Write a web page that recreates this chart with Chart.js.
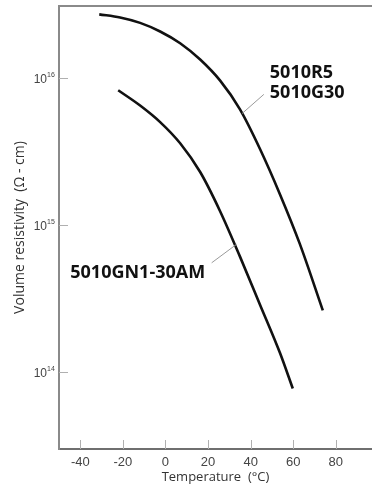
<!DOCTYPE html>
<html>
<head>
<meta charset="utf-8">
<script src="https://cdn.jsdelivr.net/npm/chart.js@4/dist/chart.umd.min.js"></script>
<style>
  html, body { margin: 0; padding: 0; background: #fff; }
  canvas { display: block; }
</style>
</head>
<body>
<canvas id="chart" width="372" height="489"></canvas>
<script>
// curves: temperature (°C) vs volume resistivity (Ω·cm)
const tempsR5 = [-31.1, -21.3, -11.9, -2.5, 6.9, 16.3, 25.6, 35.0, 44.4, 53.8, 63.1, 73.9];
const resistR5 = [2.72e16, 2.59e16, 2.38e16, 2.08e16, 1.73e16, 1.34e16, 9.66e15, 6.14e15, 3.30e15, 1.62e15, 7.46e14, 2.63e14];
const tempsGN = [-22.2, -11.9, -2.5, 6.9, 16.3, 25.6, 35.0, 44.4, 53.8, 59.8];
const resistGN = [8.28e15, 6.52e15, 5.03e15, 3.61e15, 2.30e15, 1.25e15, 6.11e14, 2.88e14, 1.35e14, 7.74e13];

const xTicks = [-40, -20, 0, 20, 40, 60, 80];
const yTicks = [1e14, 1e15, 1e16];
const yExponents = ["14", "15", "16"];
const labelR5 = ["5010R5", "5010G30"];
const labelGN = ["5010GN1-30AM"];

// label placement, in data units (temp, log10 value)
const notes = [
  { lines: labelR5, at: [49, 16.0], lineGap: 20, leader: [[36.0, 15.76], [46.2, 15.89]] },
  { lines: labelGN, at: [-44.7, 14.64], lineGap: 20, leader: [[33.4, 14.87], [21.7, 14.744]] }
];

const toPts = (xs, ys) => xs.map((x, i) => ({ x: x, y: ys[i] }));

// inner ticks, top frame, y labels with superscripts, curve labels
const extras = {
  id: "extras",
  afterDraw(chart) {
    const ctx = chart.ctx;
    const a = chart.chartArea;
    const sx = chart.scales.x, sy = chart.scales.y;
    ctx.save();
    // top frame
    ctx.strokeStyle = "#8a8a8a";
    ctx.lineWidth = 2;
    ctx.beginPath();
    ctx.moveTo(a.left - 1, a.top);
    ctx.lineTo(a.right, a.top);
    ctx.stroke();
    // inner tick marks
    ctx.strokeStyle = "#b0b0b0";
    ctx.lineWidth = 1;
    xTicks.forEach(v => {
      const px = Math.round(sx.getPixelForValue(v)) + 0.5;
      ctx.beginPath();
      ctx.moveTo(px, a.bottom);
      ctx.lineTo(px, a.bottom - 9);
      ctx.stroke();
    });
    yTicks.forEach(v => {
      const py = Math.round(sy.getPixelForValue(v)) + 0.5;
      ctx.beginPath();
      ctx.moveTo(a.left, py);
      ctx.lineTo(a.left + 9, py);
      ctx.stroke();
    });
    // y tick labels 10^n
    ctx.fillStyle = "#444";
    ctx.textBaseline = "alphabetic";
    yTicks.forEach((v, i) => {
      const py = sy.getPixelForValue(v);
      ctx.font = "7px 'Liberation Sans Narrow', 'Liberation Sans', sans-serif";
      ctx.textAlign = "left";
      ctx.fillText(yExponents[i], 47, py - 1);
      ctx.font = "12px 'Liberation Sans Narrow', 'Liberation Sans', sans-serif";
      ctx.textAlign = "right";
      ctx.fillText("10", 47, py + 5);
    });
    // curve labels and leaders
    notes.forEach(n => {
      ctx.strokeStyle = "#9a9a9a";
      ctx.lineWidth = 1;
      ctx.beginPath();
      ctx.moveTo(sx.getPixelForValue(n.leader[0][0]), sy.getPixelForValue(Math.pow(10, n.leader[0][1])));
      ctx.lineTo(sx.getPixelForValue(n.leader[1][0]), sy.getPixelForValue(Math.pow(10, n.leader[1][1])));
      ctx.stroke();
      ctx.fillStyle = "#111";
      ctx.font = "bold 18px 'Open Sans', sans-serif";
      ctx.textAlign = "left";
      const x0 = sx.getPixelForValue(n.at[0]);
      const y0 = sy.getPixelForValue(Math.pow(10, n.at[1]));
      n.lines.forEach((t, i) => ctx.fillText(t, x0, y0 + i * n.lineGap));
    });
    ctx.restore();
  }
};

const lineStyle = {
  showLine: true,
  borderColor: "#111",
  borderWidth: 2.6,
  pointRadius: 0,
  cubicInterpolationMode: "monotone",
  fill: false
};

new Chart(document.getElementById("chart"), {
  type: "scatter",
  data: {
    datasets: [
      Object.assign({ label: labelR5.join(" / "), data: toPts(tempsR5, resistR5) }, lineStyle),
      Object.assign({ label: labelGN[0], data: toPts(tempsGN, resistGN) }, lineStyle)
    ]
  },
  options: {
    responsive: false,
    animation: false,
    devicePixelRatio: 1,
    layout: { padding: { top: 6, right: 0, left: 0, bottom: 0 } },
    plugins: { legend: { display: false }, tooltip: { enabled: false } },
    scales: {
      x: {
        type: "linear",
        min: -50,
        max: 97,
        afterBuildTicks: s => { s.ticks = xTicks.map(v => ({ value: v })); },
        afterFit: s => { s.height = 40; },
        grid: { display: false, drawTicks: false },
        border: { display: true, color: "#6f6f6f", width: 2 },
        ticks: {
          padding: 6,
          color: "#444",
          font: { family: "'Liberation Sans Narrow', 'Liberation Sans', sans-serif", size: 13 }
        },
        title: {
          display: true,
          text: "Temperature  (°C)",
          color: "#333",
          padding: { top: 0, bottom: 4 },
          font: { family: "'Open Sans', sans-serif", size: 13 }
        }
      },
      y: {
        type: "logarithmic",
        min: 3.0e13,
        max: 3.1e16,
        afterBuildTicks: s => { s.ticks = yTicks.map(v => ({ value: v })); },
        afterFit: s => { s.width = 59; },
        grid: { display: false, drawTicks: false },
        border: { display: true, color: "#8a8a8a", width: 2 },
        ticks: { display: false },
        title: {
          display: true,
          text: "Volume resistivity  (Ω - cm)",
          color: "#333",
          padding: { top: 12, bottom: 0 },
          font: { family: "'Open Sans', sans-serif", size: 14 }
        }
      }
    }
  },
  plugins: [extras]
});
</script>
</body>
</html>
